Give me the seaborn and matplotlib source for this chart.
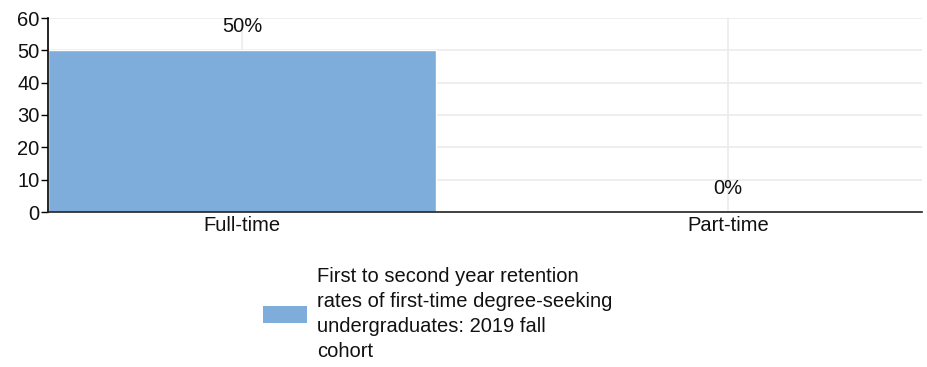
import matplotlib
matplotlib.use("Agg")
import matplotlib.pyplot as plt
from matplotlib.patches import Patch
import seaborn as sns
import pandas as pd

categories = ["Full-time", "Part-time"]
values = [50, 0]
value_labels = ["50%", "0%"]
series_name = ("First to second year retention\nrates of first-time degree-seeking\n"
               "undergraduates: 2019 fall\ncohort")
y_ticks = [0, 10, 20, 30, 40, 50, 60]

bar_color = "#7eacdb"
font_size = 14.5

sns.set_theme(style="white")
plt.rcParams["font.family"] = ["Liberation Sans", "DejaVu Sans"]

fig = plt.figure(figsize=(9.27, 3.67), dpi=100)
ax = fig.add_axes([48 / 927, 1 - 212 / 367, (922 - 48) / 927, (212 - 18) / 367])

df = pd.DataFrame({"category": categories, "value": values})
sns.barplot(data=df, x="category", y="value", color=bar_color, width=0.8,
            saturation=1, ax=ax, zorder=2)

ax.set_xlim(-0.4, 1.4)
ax.set_ylim(0, 60)
ax.set_yticks(y_ticks)
ax.set_xlabel("")
ax.set_ylabel("")

ax.grid(True, color="#ebebeb", linewidth=1.2, zorder=0)
ax.set_axisbelow(True)

for side in ("top", "right"):
    ax.spines[side].set_visible(False)
ax.spines["left"].set_color("black")
ax.spines["bottom"].set_color("#222222")
ax.spines["left"].set_linewidth(1.2)
ax.spines["bottom"].set_linewidth(1.2)

ax.tick_params(axis="y", length=5, width=1, color="black", labelsize=font_size,
               pad=1, left=True, labelcolor="#111111")
ax.tick_params(axis="x", length=0, labelsize=font_size, pad=3, labelcolor="#111111")

for i, (v, lab) in enumerate(zip(values, value_labels)):
    ax.annotate(lab, xy=(i, v), xytext=(0, 10), textcoords="offset points",
                ha="center", va="bottom", fontsize=font_size, color="#111111")

handle = Patch(facecolor=bar_color, edgecolor="none")
leg = fig.legend([handle], [series_name], loc="center left",
                 bbox_to_anchor=(263 / 927, 1 - 314 / 367), frameon=False,
                 fontsize=font_size, handlelength=2.2, handleheight=0.85,
                 handletextpad=0.5, borderpad=0, borderaxespad=0,
                 labelcolor="#111111")
for t in leg.get_texts():
    t.set_linespacing(1.4)

fig.savefig("out.png", dpi=100)
